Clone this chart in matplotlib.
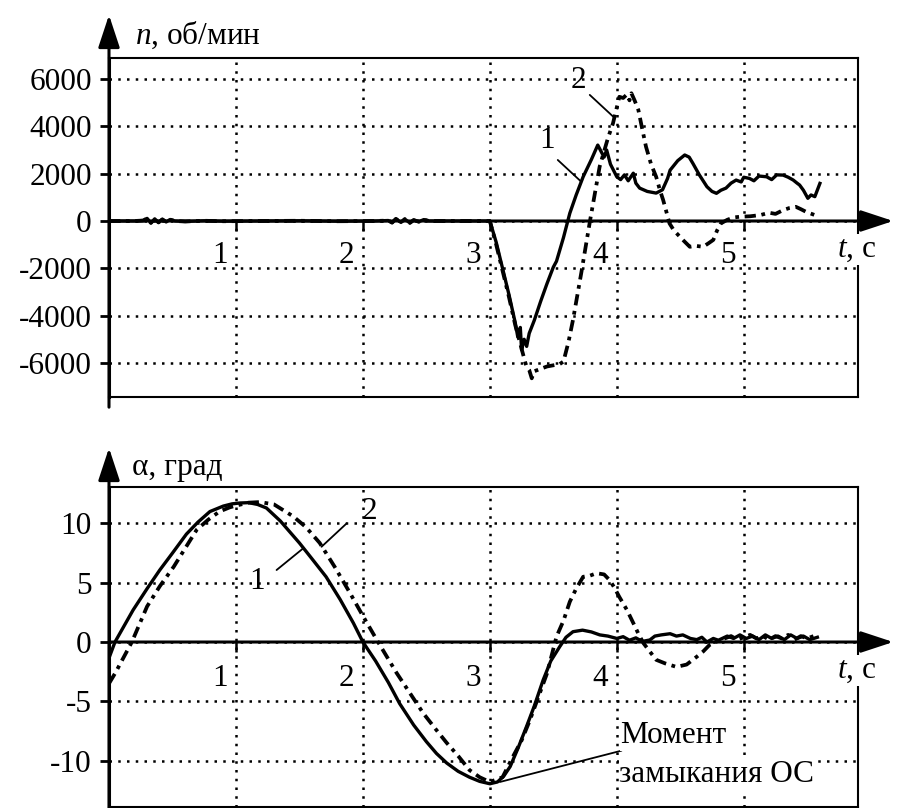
import matplotlib
matplotlib.use('Agg')
import matplotlib.pyplot as plt
from matplotlib.markers import TICKDOWN

plt.rcParams['font.family'] = ['Liberation Serif', 'DejaVu Serif']
plt.rcParams['mathtext.fontset'] = 'custom'
plt.rcParams['mathtext.rm'] = 'Liberation Serif'
plt.rcParams['mathtext.it'] = 'Liberation Serif:italic'
plt.rcParams['axes.unicode_minus'] = False

FS = 22.5

# ---------------- data: speed n, rpm ----------------
n1_t = [0.0, 0.2, 0.27, 0.3, 0.33, 0.36, 0.39, 0.42, 0.45, 0.48, 0.52, 0.6, 0.75, 0.9, 1.2, 1.5,
        1.8, 2.1, 2.2, 2.23, 2.26, 2.3, 2.33, 2.37, 2.4, 2.44, 2.48, 2.52, 2.6, 2.8, 3.0,
        3.05, 3.1, 3.15, 3.2, 3.22, 3.24, 3.25, 3.27, 3.29, 3.31, 3.35, 3.4, 3.45, 3.5, 3.525,
        3.58, 3.63, 3.68, 3.735, 3.8, 3.85, 3.88, 3.9, 3.92, 3.95, 4.0, 4.03, 4.06, 4.09, 4.13,
        4.15, 4.18, 4.24, 4.31, 4.36, 4.4, 4.42, 4.48, 4.535, 4.57, 4.6, 4.65, 4.71, 4.75, 4.785,
        4.82, 4.86, 4.9, 4.94, 4.98, 5.0, 5.045, 5.08, 5.12, 5.18, 5.22, 5.26, 5.31, 5.35, 5.39,
        5.42, 5.44, 5.47, 5.505, 5.53, 5.56, 5.6]
n1 = [0, 0, 20, 110, -80, 90, -60, 70, -40, 60, 0, -20, 10, -10, 0, 10,
      -10, 0, 20, -70, 90, -60, 80, -80, 40, -30, 60, 0, 0, 0, 0,
      -900, -2000, -3100, -4300, -4900, -4500, -5450, -5000, -5300, -4750, -4200, -3400, -2650, -1950, -1700,
      -700, 330, 1100, 1870, 2600, 3210, 2900, 2700, 3000, 2400, 1870, 1750, 1950, 1700, 2020,
      1600, 1390, 1250, 1180, 1320, 1800, 2150, 2550, 2790, 2700, 2430, 1950, 1450, 1250, 1170,
      1300, 1390, 1600, 1730, 1650, 1850, 1800, 1700, 1900, 1870, 1750, 1950, 1940, 1850, 1730,
      1600, 1520, 1300, 960, 1100, 1030, 1590]

n2_t = [0.0, 0.2, 0.27, 0.3, 0.33, 0.36, 0.39, 0.42, 0.45, 0.48, 0.52, 0.6, 0.75, 0.9, 1.2, 1.5,
        1.8, 2.1, 2.2, 2.23, 2.26, 2.3, 2.33, 2.37, 2.4, 2.44, 2.48, 2.52, 2.6, 2.8, 3.0,
        3.05, 3.1, 3.15, 3.2, 3.25, 3.28, 3.29, 3.31, 3.33, 3.35, 3.4, 3.45, 3.5, 3.55, 3.58,
        3.62, 3.655, 3.72, 3.79, 3.865, 3.93, 3.97, 4.0, 4.02, 4.05, 4.08, 4.1, 4.115, 4.14, 4.17,
        4.2, 4.23, 4.27, 4.31, 4.34, 4.365, 4.39, 4.415, 4.45, 4.496, 4.53, 4.575, 4.62, 4.68,
        4.72, 4.76, 4.79, 4.82, 4.87, 4.92, 4.97, 5.05, 5.13, 5.2, 5.25, 5.31, 5.36, 5.41, 5.45,
        5.49, 5.56]
n2 = [0, 0, 20, 110, -80, 90, -60, 70, -40, 60, 0, -20, 10, -10, 0, 10,
      -10, 0, 20, -70, 90, -60, 80, -80, 40, -30, 60, 0, 0, 0, 0,
      -1000, -2100, -3200, -4400, -5400, -6000, -6160, -6300, -6650, -6350, -6250, -6150, -6100, -6050, -5940,
      -5100, -4180, -2200, 40, 2300, 3500, 4130, 4800, 5250, 5200, 5350, 5100, 5400, 5100, 4690,
      3900, 3140, 2400, 1870, 1300, 890, 400, -100, -400, -660, -850, -1090, -1050, -1090,
      -950, -800, -400, -100, 50, 150, 180, 200, 250, 350, 300, 460, 550, 600, 500,
      390, 250]

# ---------------- data: angle alpha, deg ----------------
a1_t = [0.0, 0.047, 0.1, 0.19, 0.3, 0.4, 0.5, 0.61, 0.7, 0.795, 0.9, 0.97, 1.03, 1.1, 1.17, 1.24,
        1.35, 1.5, 1.6, 1.71, 1.82, 1.925, 2.0, 2.1, 2.2, 2.29, 2.4, 2.5, 2.58, 2.66, 2.75,
        2.84, 2.92, 3.0, 3.06, 3.11, 3.16, 3.22, 3.29, 3.35, 3.42, 3.48, 3.55, 3.6, 3.655, 3.73,
        3.8, 3.866, 3.93, 4.0, 4.05, 4.1, 4.15, 4.2, 4.26, 4.3, 4.35, 4.42, 4.47, 4.52, 4.58,
        4.63, 4.67, 4.71, 4.76, 4.8, 4.87, 4.92, 4.97, 5.02, 5.07, 5.12, 5.17, 5.22, 5.27, 5.32,
        5.37, 5.42, 5.47, 5.52, 5.58]
a1 = [-1.35, 0.0, 1.0, 2.7, 4.5, 6.07, 7.5, 9.1, 10.1, 11.0, 11.46, 11.65, 11.72, 11.75, 11.6, 11.3,
      10.2, 8.35, 7.0, 5.5, 3.6, 1.6, 0.0, -1.6, -3.4, -5.2, -7.0, -8.4, -9.4, -10.2, -10.9,
      -11.4, -11.75, -11.95, -11.8, -11.3, -10.5, -9.0, -7.1, -5.4, -3.2, -1.6, -0.4, 0.4, 0.87, 1.0,
      0.85, 0.6, 0.5, 0.3, 0.45, 0.15, 0.35, 0.05, 0.17, 0.5, 0.6, 0.7, 0.5, 0.6, 0.3,
      0.2, 0.4, 0.0, 0.3, 0.15, 0.5, 0.3, 0.6, 0.3, 0.5, 0.2, 0.6, 0.3, 0.5, 0.2,
      0.6, 0.3, 0.5, 0.2, 0.4]

a2_t = [0.0, 0.05, 0.1, 0.18, 0.3, 0.4, 0.51, 0.6, 0.69, 0.78, 0.87, 0.95, 1.0, 1.1, 1.19, 1.3,
        1.45, 1.55, 1.66, 1.78, 1.9, 2.0, 2.11, 2.265, 2.37, 2.475, 2.57, 2.66, 2.75, 2.84, 2.92,
        3.0, 3.1, 3.18, 3.25, 3.315, 3.38, 3.45, 3.525, 3.58, 3.63, 3.68, 3.735, 3.79, 3.84, 3.9,
        3.945, 3.98, 4.02, 4.08, 4.13, 4.17, 4.21, 4.26, 4.31, 4.38, 4.47, 4.55, 4.63, 4.68, 4.73,
        4.8, 4.85, 4.9, 4.95, 5.0, 5.05, 5.1, 5.15, 5.2, 5.25, 5.3, 5.35, 5.4, 5.45, 5.5, 5.55, 5.58]
a2 = [-3.5, -2.6, -1.6, 0.0, 3.0, 4.7, 6.35, 7.9, 9.45, 10.3, 11.0, 11.35, 11.5, 11.75, 11.8, 11.6,
      10.6, 9.7, 8.35, 6.3, 4.1, 2.2, 0.17, -2.6, -4.3, -6.0, -7.3, -8.5, -9.6, -10.8, -11.4,
      -11.8, -11.4, -9.7, -8.3, -6.6, -4.7, -2.65, 0.45, 1.8, 3.4, 4.5, 5.5, 5.6, 5.8, 5.7,
      5.2, 4.6, 3.8, 2.7, 1.6, 0.7, -0.1, -0.8, -1.5, -1.8, -2.1, -1.9, -1.24, -0.8, -0.25,
      0.1, 0.3, 0.5, 0.2, 0.4, 0.6, 0.3, 0.5, 0.2, 0.5, 0.3, 0.6, 0.2, 0.5, 0.3, 0.5, 0.3]

x_ticks = [1, 2, 3, 4, 5]
n_ticks = [-6000, -4000, -2000, 0, 2000, 4000, 6000]
a_ticks = [-10, -5, 0, 5, 10]

fig = plt.figure(figsize=(9.03, 8.08), dpi=100)
ax1 = fig.add_axes([0.12071, 0.50866, 0.82946, 0.41955])
ax2 = fig.add_axes([0.12071, 0.00124, 0.82946, 0.39604])

DASHDOT = (0, (3.0, 1.5, 1.0, 1.5))


def style(ax, ylim, yticks, ylabel, lab_xy, yarrow, tick_lab_dy):
    ax.set_xlim(0, 5.9)
    ax.set_ylim(*ylim)
    ax.set_xticks(x_ticks)
    ax.set_yticks(yticks)
    ax.set_yticklabels([str(v) for v in yticks])
    ax.grid(True, color='k', lw=1.8, linestyle=(0, (1, 2.5)))
    ax.tick_params(axis='x', length=0, labelbottom=False)
    ax.tick_params(axis='y', direction='out', length=6.5, width=2,
                   labelsize=FS, pad=6)
    for s in ['top', 'right', 'bottom']:
        ax.spines[s].set_linewidth(1.5)
    ax.spines['left'].set_linewidth(2.2)
    # y-axis arrow
    ax.annotate('', xy=(0, yarrow[1]), xycoords='axes fraction',
                xytext=(0, yarrow[0]), textcoords='axes fraction',
                arrowprops=dict(arrowstyle='-|>,head_length=1.0,head_width=0.33',
                                mutation_scale=20, lw=2.2, color='k',
                                shrinkA=0, shrinkB=0),
                annotation_clip=False)
    # x-axis arrow (zero line)
    ax.annotate('', xy=(1.047, 0), xycoords=('axes fraction', 'data'),
                xytext=(0, 0), textcoords=('axes fraction', 'data'),
                arrowprops=dict(arrowstyle='-|>,head_length=1.0,head_width=0.33',
                                mutation_scale=20, lw=2.2, color='k',
                                shrinkA=0, shrinkB=0),
                annotation_clip=False)
    ax.plot(x_ticks, [0] * len(x_ticks), ls='none', marker=TICKDOWN, ms=7,
            mew=1.8, color='k', clip_on=False, zorder=4)
    for t in x_ticks:
        ax.annotate(str(t), xy=(t, 0), xytext=(-6, tick_lab_dy),
                    textcoords='offset points', ha='right', va='baseline',
                    fontsize=FS)
    ax.annotate(r'$t$, с', xy=(1, 0), xycoords=('axes fraction', 'data'),
                xytext=(-15.3, -25.7), textcoords='offset points',
                ha='left', va='baseline', fontsize=FS,
                bbox=dict(fc='white', ec='none', pad=1),
                annotation_clip=False, zorder=5)
    ax.text(lab_xy[0], lab_xy[1], ylabel, transform=ax.transAxes,
            fontsize=FS, ha='left', va='baseline')


style(ax1, (-7440, 6890), n_ticks, r'$n$, об/мин', (0.0347, 1.041), (-0.03, 1.127), -30.5)
style(ax2, (-13.91, 13.07), a_ticks, 'α, град', (0.0307, 1.0375), (-0.05, 1.122), -32)

ax1.plot(n1_t, n1, color='k', lw=2.4, zorder=3)
ax1.plot(n2_t, n2, color='k', lw=2.7, linestyle=DASHDOT, zorder=3)
ax2.plot(a1_t, a1, color='k', lw=2.4, zorder=3)
ax2.plot(a2_t, a2, color='k', lw=2.7, linestyle=DASHDOT, zorder=3)

leader = dict(arrowstyle='-', lw=1.3, color='k', shrinkA=0, shrinkB=0)
# top annotations
ax1.text(3.449, 3420, '1', fontsize=FS, ha='center', va='center')
ax1.annotate('', xy=(3.72, 1660), xytext=(3.535, 2580), arrowprops=leader)
ax1.text(3.70, 5920, '2', fontsize=FS, ha='center', va='center')
ax1.annotate('', xy=(3.984, 4350), xytext=(3.787, 5330), arrowprops=leader)
# bottom annotations
ax2.text(2.055, 11.04, '2', fontsize=FS, ha='center', va='center')
ax2.annotate('', xy=(1.674, 8.03), xytext=(1.872, 10.0), arrowprops=leader)
ax2.text(1.169, 5.08, '1', fontsize=FS, ha='center', va='center')
ax2.annotate('', xy=(1.53, 7.9), xytext=(1.32, 6.07), arrowprops=leader)
ax2.text(4.03, -8.52, 'Момент', fontsize=FS, ha='left', va='baseline',
         bbox=dict(fc='white', ec='none', pad=0.5), zorder=5)
ax2.text(4.02, -11.8, 'замыкания ОС', fontsize=FS, ha='left', va='baseline',
         bbox=dict(fc='white', ec='none', pad=0.5), zorder=5)
ax2.annotate('', xy=(4.037, -9.16), xytext=(3.079, -11.8), arrowprops=leader)

fig.savefig('out.png', dpi=100)
